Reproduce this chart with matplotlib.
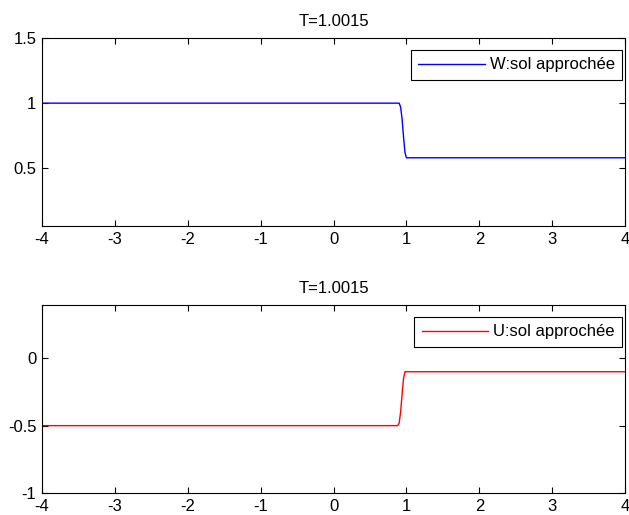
import numpy as np
import matplotlib
matplotlib.use("Agg")
import matplotlib.pyplot as plt

# =====================
# 1. Data
# =====================
x_w = [-4.0, 0.90, 0.92, 0.94, 0.96, 0.98, 1.0, 4.0]
w_vals = [1.0, 1.0, 0.97, 0.88, 0.74, 0.62, 0.58, 0.58]

x_u = [-4.0, 0.88, 0.90, 0.92, 0.94, 0.96, 0.98, 4.0]
u_vals = [-0.5, -0.5, -0.48, -0.40, -0.27, -0.15, -0.10, -0.10]

title_txt = "T=1.0015"
xticks = [-4, -3, -2, -1, 0, 1, 2, 3, 4]

plt.rcParams['font.family'] = ['Liberation Sans', 'DejaVu Sans']
plt.rcParams['font.size'] = 12

fig = plt.figure(figsize=(6.29, 5.15), dpi=100)
ax1 = fig.add_axes([0.0668, 0.561, 0.927, 0.365])
ax2 = fig.add_axes([0.0668, 0.0427, 0.927, 0.365])

# ===============
# 2. Top subplot
# ===============
ax1.plot(x_w, w_vals, color="#0000ff", lw=1.0, label="W:sol approchée")
ax1.set_xlim(-4, 4)
ax1.set_ylim(0.055, 1.5)
ax1.set_yticks([0.5, 1, 1.5])
ax1.set_yticklabels(["0.5", "1", "1.5"])

# ==================
# 3. Bottom subplot
# ==================
ax2.plot(x_u, u_vals, color="#ff0000", lw=1.0, label="U:sol approchée")
ax2.set_xlim(-4, 4)
ax2.set_ylim(-1, 0.395)
ax2.set_yticks([-1, -0.5, 0])
ax2.set_yticklabels(["-1", "-0.5", "0"])

for ax in (ax1, ax2):
    ax.set_xticks(xticks)
    ax.set_xticklabels([str(t) for t in xticks])
    ax.set_title(title_txt, fontsize=12, pad=9)
    ax.tick_params(direction="in", top=True, right=True, length=4, width=0.8,
                   labelsize=12, pad=4)
    for s in ax.spines.values():
        s.set_linewidth(0.8)
    leg = ax.legend(loc="upper right", fancybox=False, framealpha=1, edgecolor="black",
                    handlelength=4.0, handletextpad=0.3, borderpad=0.45, fontsize=12,
                    borderaxespad=0, bbox_to_anchor=(0.995, 0.937))
    leg.get_frame().set_linewidth(0.8)

plt.savefig("out.png", dpi=100)
